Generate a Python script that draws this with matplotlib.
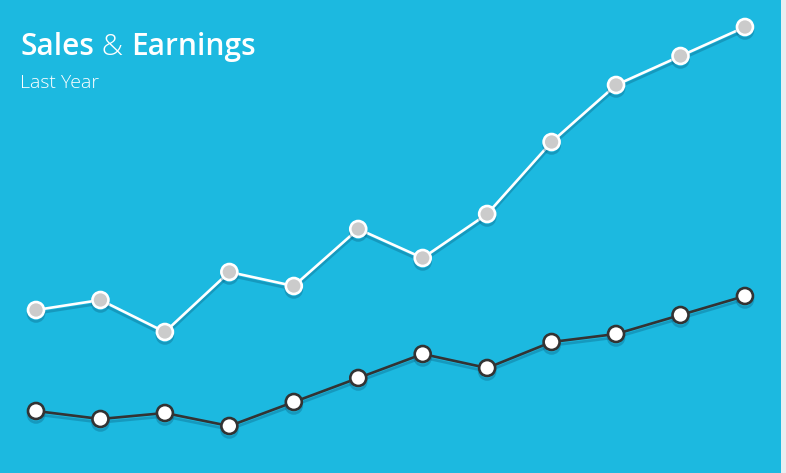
import matplotlib
matplotlib.use("Agg")
import matplotlib.pyplot as plt
import matplotlib.patheffects as pe

months = list(range(12))
sales = [163, 173, 141, 201, 187, 244, 215, 259, 331, 388, 417, 446]
earnings = [62, 54, 60, 47, 71, 95, 119, 105, 131, 139, 158, 177]

W, H = 786, 473
fig = plt.figure(figsize=(W / 100, H / 100), dpi=100)
fig.patch.set_facecolor("#E9EEF1")
ax = fig.add_axes([0, 0, 781 / W, 1])
ax.set_facecolor("#1CB9E0")
for s in ax.spines.values():
    s.set_visible(False)
ax.set_xticks([])
ax.set_yticks([])
step = 64.45
ax.set_xlim(-36 / step, (781 - 36) / step)
ax.set_ylim(0, H)

shadow = [pe.SimpleLineShadow(offset=(0, -2.5), shadow_color="#0A5F80", alpha=0.35), pe.Normal()]

ax.plot(months, sales, color="white", lw=1.9, marker="o", ms=11.5,
        mfc="#CBCBCB", mec="white", mew=1.9, path_effects=shadow, zorder=3)
ax.plot(months, earnings, color="#333333", lw=1.9, marker="o", ms=11.5,
        mfc="white", mec="#333333", mew=1.9, path_effects=shadow, zorder=3)

renderer = fig.canvas.get_renderer()
x = 20
yb = 1 - 55 / H
parts = [("Sales", "semibold"), (" & ", "light"), ("Earnings", "semibold")]
for txt, wt in parts:
    t = fig.text(x / W, yb, txt, fontsize=21.5, fontweight=wt, color="white",
                 family="Open Sans", va="baseline", ha="left")
    bb = t.get_window_extent(renderer)
    x += bb.width
fig.text(20 / W, 1 - 88 / H, "Last Year", fontsize=14, fontweight="light", color="white",
         family="Open Sans", va="baseline", ha="left")

fig.savefig("out.png", dpi=100, facecolor=fig.get_facecolor())
